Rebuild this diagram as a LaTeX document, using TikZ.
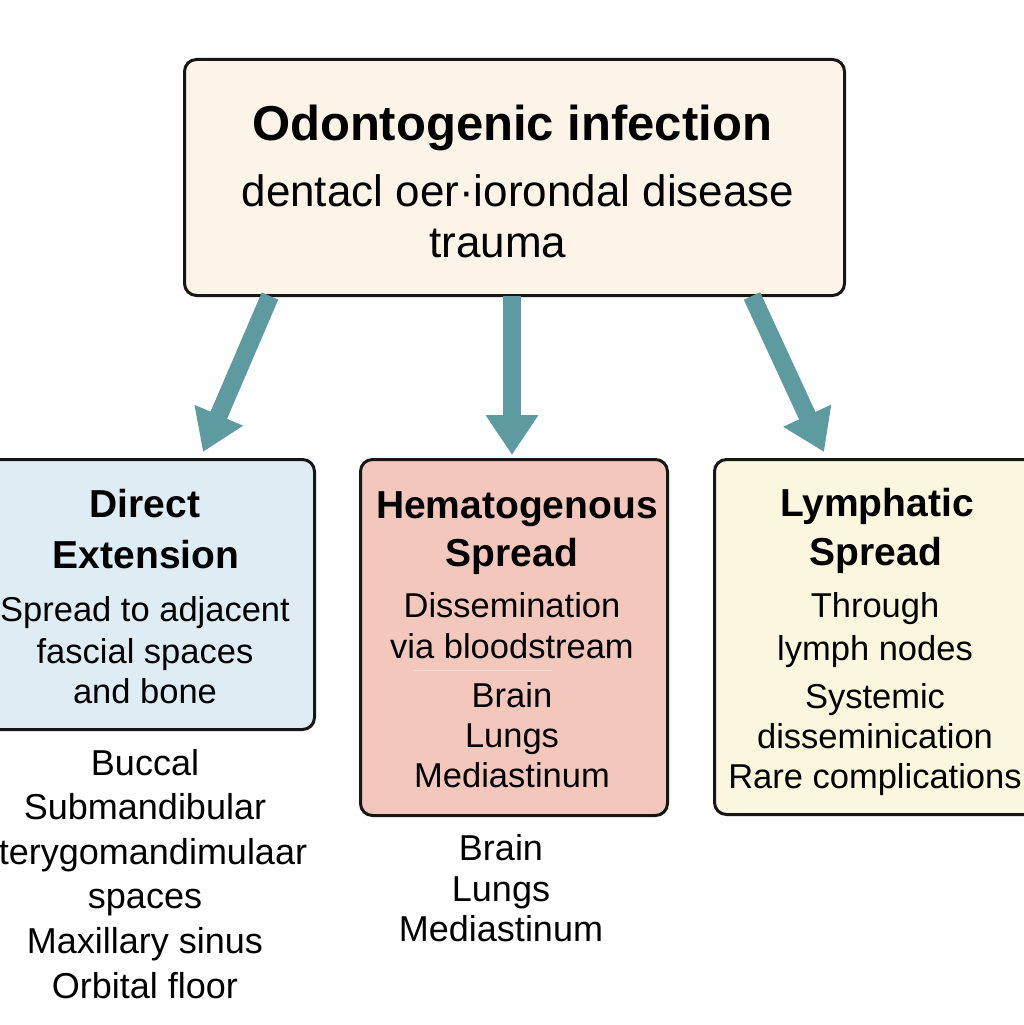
\documentclass[tikz,border=0pt]{standalone}
\usepackage{fontspec}
\setmainfont{Liberation Sans}
\usetikzlibrary{arrows.meta}
\definecolor{boxline}{RGB}{22,22,22}
\definecolor{topfill}{RGB}{252,244,230}
\definecolor{directfill}{RGB}{222,237,243}
\definecolor{bloodfill}{RGB}{244,199,189}
\definecolor{lymphfill}{RGB}{251,246,222}
\definecolor{spreadcol}{RGB}{93,155,160}
\definecolor{sepcol}{RGB}{251,221,213}

\begin{document}
\begin{tikzpicture}[x=1pt,y=-1pt,
    box/.style={draw=boxline, line width=3pt, rounded corners=12pt,
      inner sep=0pt, anchor=north west},
    spread/.style={draw=spreadcol, line width=18pt,
      -{Triangle[length=40pt,width=50pt]}},
    ttl/.style={anchor=base, font=\fontsize{49}{52}\selectfont\bfseries},
    ttlsub/.style={anchor=base, font=\fontsize{44}{48}\selectfont},
    head/.style={anchor=base, font=\fontsize{39}{43}\selectfont\bfseries},
    body/.style={anchor=base, font=\fontsize{34.5}{38}\selectfont},
    item/.style={anchor=base, font=\fontsize{36}{40}\selectfont}]

  \useasboundingbox (0,0) rectangle (1024,1025);

  % Source box.
  \node[box, fill=topfill, minimum width=660pt, minimum height=236pt] (src) at (183,58) {};
  \node[ttl] (src1) at (512,140) {Odontogenic infection};
  \node[ttlsub] (src2) at (518,206) {dentacl oer·iorondal disease};
  \node[ttlsub] (src3) at (498,257) {trauma};

  % Three routes of spread.
  \node[box, fill=directfill, minimum width=338pt, minimum height=270pt] (direct) at (-25,458) {};
  \node[box, fill=bloodfill, minimum width=307pt, minimum height=356pt] (blood) at (359,458) {};
  \node[box, fill=lymphfill, minimum width=330pt, minimum height=355pt] (lymph) at (713,458) {};

  % Arrows out of the source box.
  \coordinate (d0) at (270,296);
  \coordinate (d1) at (203,452);
  \coordinate (b0) at (512,296);
  \coordinate (b1) at (512,455);
  \coordinate (l0) at (752,296);
  \coordinate (l1) at (824,452);
  \draw[spread] (d0) -- (d1);
  \draw[spread] (b0) -- (b1);
  \draw[spread] (l0) -- (l1);

  % Direct extension.
  \node[head] (dh1) at (145,517) {Direct};
  \node[head] (dh2) at (146,568) {Extension};
  \foreach \txt/\yy in {Spread to adjacent/621, fascial spaces/663, and bone/703}
    \node[body] (dt\yy) at (145,\yy) {\txt};

  % Hematogenous spread.
  \node[head] (bh1) at (517,518) {Hematogenous};
  \node[head] (bh2) at (512,566) {Spread};
  \foreach \txt/\yy in {Dissemination/617, via bloodstream/658, Brain/707, Lungs/747, Mediastinum/787}
    \node[body] (bt\yy) at (512,\yy) {\txt};
  \draw[sepcol, line width=1pt] (413,670) -- (552,670);

  % Lymphatic spread.
  \node[head] (lh1) at (877,516) {Lymphatic};
  \node[head] (lh2) at (876,565) {Spread};
  \foreach \txt/\yy in {Through/617, lymph nodes/660, Systemic/708, disseminication/748, Rare complications/788}
    \node[body] (lt\yy) at (875,\yy) {\txt};

  % Spaces reached by direct extension.
  \foreach \txt/\xx/\yy in {Buccal/145/775, Submandibular/145/819, terygomandimulaar/153/864,
      spaces/145/908, Maxillary sinus/145/953, Orbital floor/145/998}
    \node[item] (sp\yy) at (\xx,\yy) {\txt};

  % Sites reached through the blood.
  \foreach \txt/\yy in {Brain/860, Lungs/901, Mediastinum/941}
    \node[item] (st\yy) at (501,\yy) {\txt};

\end{tikzpicture}
\end{document}
